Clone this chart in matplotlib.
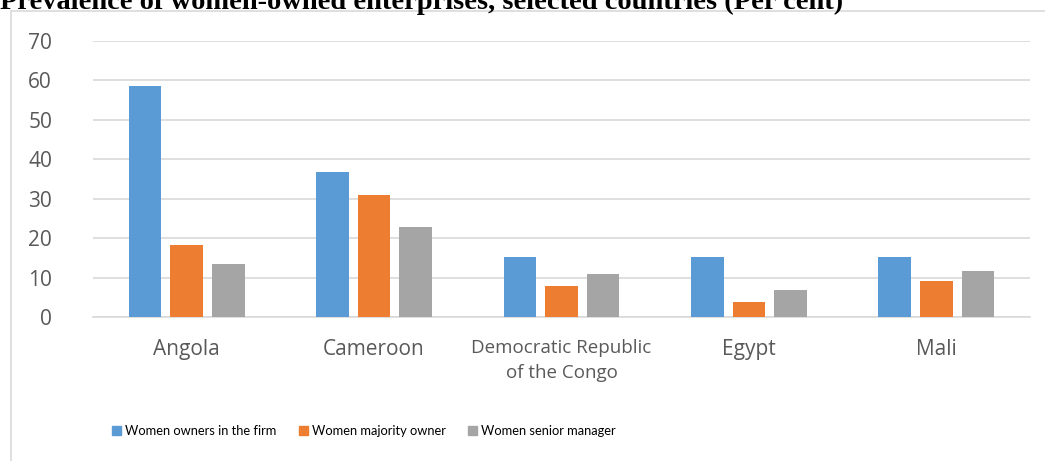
import matplotlib.pyplot as plt
from matplotlib.patches import Rectangle, Patch
import numpy as np

countries = ["Angola", "Cameroon", "Democratic Republic\nof the Congo", "Egypt", "Mali"]
owners = [58.7, 36.7, 15.1, 15.1, 15.2]
majority = [18.2, 31.0, 7.9, 3.8, 9.1]
senior = [13.4, 22.8, 10.8, 6.9, 11.6]

series_names = ["Women owners in the firm", "Women majority owner", "Women senior manager"]
colors = ["#5b9bd5", "#ed7d31", "#a5a5a5"]

W, H = 1045, 461
fig = plt.figure(figsize=(W / 100, H / 100), dpi=100)

# outer chart frame (clipped at right/bottom like the reference)
fig.patches.append(Rectangle((11 / W, -0.1), 1.2, 1 - 11 / H + 0.1,
                             transform=fig.transFigure, fill=False,
                             edgecolor="#d9d9d9", lw=1.2))

fig.text(0, 1 - 9 / H, "Prevalence of women-owned enterprises, selected countries (Per cent)",
         family="Liberation Serif", weight="bold", fontsize=20.5, va="baseline", ha="left")

ax = fig.add_axes([93 / W, (H - 317) / H, 937 / W, (317 - 41) / H])
x = np.arange(len(countries))
step = 0.222
width = 0.174
for i, (vals, name, c) in enumerate(zip([owners, majority, senior], series_names, colors)):
    ax.bar(x + (i - 1) * step, vals, width, color=c, label=name, zorder=3)

ax.set_xlim(-0.5, len(countries) - 0.5)
ax.set_ylim(0, 70)
ax.set_yticks(range(0, 71, 10))
ax.yaxis.grid(True, color="#d9d9d9", lw=1.2, zorder=0)
for s in ["top", "right", "left"]:
    ax.spines[s].set_visible(False)
ax.spines["bottom"].set_color("#d9d9d9")
ax.spines["bottom"].set_linewidth(1.2)
ax.tick_params(axis="both", length=0, colors="#595959")
ax.tick_params(axis="y", pad=29.5)
ax.tick_params(axis="x", pad=16)
for lab in ax.get_yticklabels():
    lab.set_family("Open Sans")
    lab.set_fontsize(15)
ax.set_xticks(x)
ax.set_xticklabels(countries)
for lab in ax.get_xticklabels():
    lab.set_family("Open Sans")
    lab.set_fontsize(15 if "\n" not in lab.get_text() else 13.5)
    lab.set_linespacing(1.45)

# one legend entry per box so the entries sit where the reference has them
legend_x = [100, 287, 456]
for c, n, lx in zip(colors, series_names, legend_x):
    fig.legend(handles=[Patch(color=c, label=n)], loc="center left",
               bbox_to_anchor=(lx / W, 1 - 431 / H), frameon=False,
               handlelength=0.7, handleheight=0.7, handletextpad=0.3,
               prop={"family": ["Lato", "DejaVu Sans"], "size": 9.3})

fig.savefig("out.png", dpi=100)
